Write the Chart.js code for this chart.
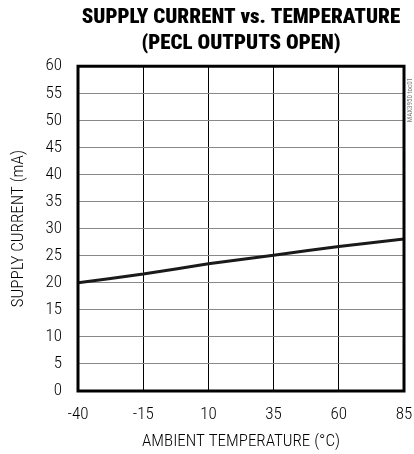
<!DOCTYPE html>
<html>
<head>
<meta charset="utf-8">
<script src="https://cdn.jsdelivr.net/npm/chart.js@4.4.1/dist/chart.umd.min.js"></script>
<style>
    html, body { margin: 0; padding: 0; background: #fff; }
    canvas { display: block; }
</style>
</head>
<body>
<canvas id="supplyChart" width="414" height="454"></canvas>
<script>
    const temperatures = [-40, -15, 10, 35, 60, 85];
    const supplyCurrent = [20.0, 21.6, 23.5, 25.1, 26.7, 28.1];

    const narrow = "'Roboto Condensed', 'DejaVu Sans Condensed', sans-serif";

    // thick frame round the plot plus the small part number on the right edge
    const framePlugin = {
        id: "frame",
        afterDraw(chart) {
            const { ctx, chartArea: a } = chart;
            ctx.save();
            ctx.strokeStyle = "#000";
            ctx.lineWidth = 3;
            ctx.strokeRect(a.left, a.top, a.right - a.left, a.bottom - a.top);

            ctx.translate(410, 100);
            ctx.rotate(-Math.PI / 2);
            ctx.fillStyle = "#777";
            ctx.font = "7px " + narrow;
            ctx.textAlign = "center";
            ctx.textBaseline = "middle";
            ctx.fillText("MAX3950 toc01", 0, 0);
            ctx.restore();
        },
    };

    new Chart(document.getElementById("supplyChart"), {
        type: "line",
        data: {
            datasets: [
                {
                    data: temperatures.map((t, i) => ({ x: t, y: supplyCurrent[i] })),
                    borderColor: "#1a1a1a",
                    borderWidth: 3,
                    pointRadius: 0,
                    tension: 0.2,
                },
            ],
        },
        options: {
            responsive: false,
            animation: false,
            layout: { padding: 0 },
            plugins: {
                legend: { display: false },
                tooltip: { enabled: false },
                title: {
                    display: true,
                    fullSize: false,
                    text: ["SUPPLY CURRENT vs. TEMPERATURE", "(PECL OUTPUTS OPEN)"],
                    color: "#000",
                    font: { family: narrow, size: 21, weight: 900, lineHeight: 1.22 },
                    padding: { top: 5, bottom: 10 },
                },
            },
            scales: {
                x: {
                    type: "linear",
                    min: -40,
                    max: 85,
                    ticks: {
                        stepSize: 25,
                        color: "#000",
                        padding: 14,
                        font: { family: narrow, size: 17, weight: 300 },
                    },
                    grid: { color: "#000", lineWidth: 1, drawTicks: false },
                    border: { display: false },
                    title: {
                        display: true,
                        text: "AMBIENT TEMPERATURE (°C)",
                        color: "#000",
                        font: { family: narrow, size: 17, weight: 300 },
                        padding: { top: 0, bottom: 2 },
                    },
                    afterFit(scale) {
                        scale.height = 63;
                        scale.paddingLeft = 0;
                        scale.paddingRight = 10;
                    },
                },
                y: {
                    min: 0,
                    max: 60,
                    ticks: {
                        stepSize: 5,
                        color: "#000",
                        padding: 16,
                        font: { family: narrow, size: 17, weight: 300 },
                    },
                    grid: { color: "#888", lineWidth: 1, drawTicks: false },
                    border: { display: false },
                    title: {
                        display: true,
                        text: "SUPPLY CURRENT (mA)",
                        color: "#000",
                        font: { family: narrow, size: 17, weight: 300 },
                        padding: { top: 9, bottom: 0 },
                    },
                    afterFit(scale) {
                        scale.width = 78;
                    },
                },
            },
        },
        plugins: [framePlugin],
    });
</script>
</body>
</html>
